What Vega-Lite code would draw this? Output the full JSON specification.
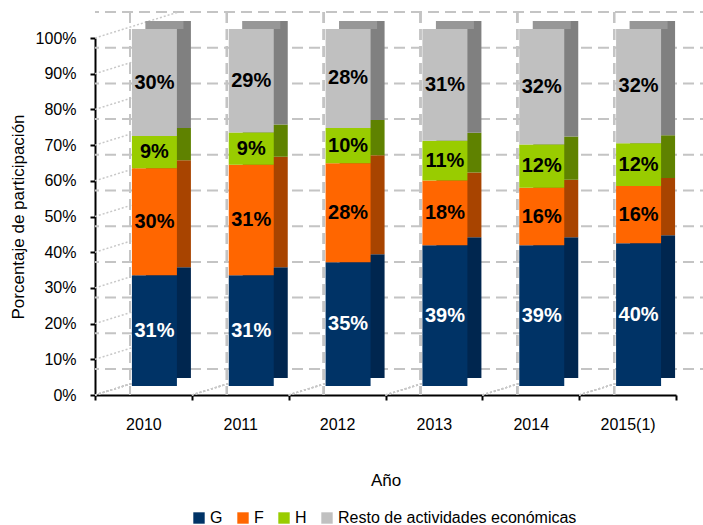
{
  "$schema": "https://vega.github.io/schema/vega-lite/v6.json",
  "width": 581,
  "height": 357,
  "autosize": {"type": "none"},
  "padding": {"left": 95, "top": 38, "right": 27, "bottom": 130},
  "background": "white",
  "config": {
    "view": {"stroke": null},
    "font": "Liberation Sans",
    "axis": {
      "grid": false,
      "domainColor": "black",
      "domainWidth": 2,
      "tickColor": "black",
      "tickWidth": 2,
      "tickSize": 5,
      "labelColor": "black",
      "titleColor": "black",
      "labelFont": "Liberation Sans",
      "titleFont": "Liberation Sans",
      "labelFontSize": 16,
      "titleFontSize": 17,
      "titleFontWeight": "normal"
    },
    "axisX": {"labelAngle": 0, "tickBand": "extent", "labelPadding": 16, "titlePadding": 40},
    "axisY": {"labelPadding": 14, "titlePadding": 8, "values": [0, 0.1, 0.2, 0.3, 0.4, 0.5, 0.6, 0.7, 0.8, 0.9, 1], "format": ".0%"},
    "legend": {"layout": {"bottom": {"anchor": "middle"}}}
  },
  "datasets": {
    "share": [
      {"year": "2010", "cat": "G", "v": 31},
      {"year": "2010", "cat": "F", "v": 30},
      {"year": "2010", "cat": "H", "v": 9},
      {"year": "2010", "cat": "Resto de actividades  económicas", "v": 30},
      {"year": "2011", "cat": "G", "v": 31},
      {"year": "2011", "cat": "F", "v": 31},
      {"year": "2011", "cat": "H", "v": 9},
      {"year": "2011", "cat": "Resto de actividades  económicas", "v": 29},
      {"year": "2012", "cat": "G", "v": 35},
      {"year": "2012", "cat": "F", "v": 28},
      {"year": "2012", "cat": "H", "v": 10},
      {"year": "2012", "cat": "Resto de actividades  económicas", "v": 28},
      {"year": "2013", "cat": "G", "v": 39},
      {"year": "2013", "cat": "F", "v": 18},
      {"year": "2013", "cat": "H", "v": 11},
      {"year": "2013", "cat": "Resto de actividades  económicas", "v": 31},
      {"year": "2014", "cat": "G", "v": 39},
      {"year": "2014", "cat": "F", "v": 16},
      {"year": "2014", "cat": "H", "v": 12},
      {"year": "2014", "cat": "Resto de actividades  económicas", "v": 32},
      {"year": "2015(1)", "cat": "G", "v": 40},
      {"year": "2015(1)", "cat": "F", "v": 16},
      {"year": "2015(1)", "cat": "H", "v": 12},
      {"year": "2015(1)", "cat": "Resto de actividades  económicas", "v": 32}
    ],
    "grid": [
      {"g": 0}, {"g": 0.1}, {"g": 0.2}, {"g": 0.3}, {"g": 0.4}, {"g": 0.5},
      {"g": 0.6}, {"g": 0.7}, {"g": 0.8}, {"g": 0.9}, {"g": 1}
    ]
  },
  "layer": [
    {
      "data": {"name": "grid"},
      "mark": {"type": "rule", "color": "#c4c4c4", "strokeWidth": 2, "strokeDash": [11, 6], "xOffset": 35, "x2Offset": 35, "yOffset": -26, "y2Offset": -26},
      "encoding": {
        "y": {"field": "g", "type": "quantitative", "title": "Porcentaje de participación", "scale": {"domain": [0, 1], "nice": false}}
      }
    },
    {
      "data": {"name": "grid"},
      "mark": {"type": "rule", "color": "#c8c8c8", "strokeWidth": 1.5, "strokeDash": [2, 2], "x2Offset": 35, "y2Offset": -26},
      "encoding": {
        "x": {"datum": "2010", "type": "nominal", "bandPosition": 0},
        "x2": {"datum": "2010"},
        "y": {"field": "g", "type": "quantitative", "title": "Porcentaje de participación"},
        "y2": {"field": "g"}
      }
    },
    {
      "data": {"name": "share"},
      "mark": {"type": "rule", "color": "#c4c4c4", "strokeWidth": 2, "strokeDash": [11, 6], "xOffset": 35, "x2Offset": 35, "yOffset": -26, "y2Offset": -26},
      "encoding": {
        "x": {"field": "year", "type": "nominal", "sort": null, "bandPosition": 0, "title": "Año", "scale": {"paddingInner": 0, "paddingOuter": 0}}
      }
    },
    {
      "data": {"name": "share"},
      "mark": {"type": "rule", "color": "#c8c8c8", "strokeWidth": 1.5, "strokeDash": [2, 2], "x2Offset": 35, "y2Offset": -26},
      "encoding": {
        "x": {"field": "year", "type": "nominal", "sort": null, "bandPosition": 0, "title": "Año"},
        "x2": {"field": "year"},
        "y": {"datum": 0, "type": "quantitative"},
        "y2": {"datum": 0}
      }
    },
    {
      "data": {"name": "share"},
      "transform": [
        {"calculate": "indexof(['G','F','H','Resto de actividades  económicas'], datum.cat)", "as": "ord"},
        {"stack": "v", "groupby": ["year"], "sort": [{"field": "ord"}], "offset": "normalize", "as": ["y0", "y1"]}
      ],
      "mark": {"type": "bar", "width": 45, "xOffset": 25, "yOffset": -17, "y2Offset": -17},
      "encoding": {
        "x": {"field": "year", "type": "nominal", "sort": null, "title": "Año"},
        "y": {"field": "y0", "type": "quantitative", "title": "Porcentaje de participación"},
        "y2": {"field": "y1"},
        "color": {"field": "cat", "type": "nominal", "legend": null,
          "scale": {"domain": ["G", "F", "H", "Resto de actividades  económicas"], "range": ["#00264f", "#a84400", "#5f8200", "#808080"]}}
      }
    },
    {
      "data": {"name": "share"},
      "transform": [
        {"calculate": "indexof(['G','F','H','Resto de actividades  económicas'], datum.cat)", "as": "ord"},
        {"stack": "v", "groupby": ["year"], "sort": [{"field": "ord"}], "offset": "normalize", "as": ["y0", "y1"]},
        {"filter": "datum.ord === 3"}
      ],
      "mark": {"type": "bar", "width": 38, "xOffset": 21, "yOffset": -17, "y2Offset": -9, "color": "#979797"},
      "encoding": {
        "x": {"field": "year", "type": "nominal", "sort": null, "title": "Año"},
        "y": {"field": "y1", "type": "quantitative", "title": "Porcentaje de participación"},
        "y2": {"field": "y1"}
      }
    },
    {
      "data": {"name": "share"},
      "transform": [
        {"calculate": "indexof(['G','F','H','Resto de actividades  económicas'], datum.cat)", "as": "ord"},
        {"stack": "v", "groupby": ["year"], "sort": [{"field": "ord"}], "offset": "normalize", "as": ["y0", "y1"]}
      ],
      "mark": {"type": "bar", "width": 45, "xOffset": 11, "yOffset": -9, "y2Offset": -9},
      "encoding": {
        "x": {"field": "year", "type": "nominal", "sort": null, "title": "Año"},
        "y": {"field": "y0", "type": "quantitative", "title": "Porcentaje de participación"},
        "y2": {"field": "y1"},
        "color": {"field": "cat", "type": "nominal",
          "scale": {"domain": ["G", "F", "H", "Resto de actividades  económicas"], "range": ["#003366", "#ff6600", "#99cc00", "#c0c0c0"]},
          "legend": {"title": null, "orient": "bottom", "direction": "horizontal", "symbolType": "square", "symbolSize": 130, "symbolStrokeWidth": 0, "labelFontSize": 16, "labelFont": "Liberation Sans", "labelColor": "black", "labelLimit": 0, "columnPadding": 12, "labelOffset": 3, "offset": 22}}
      }
    },
    {
      "data": {"name": "share"},
      "transform": [
        {"calculate": "indexof(['G','F','H','Resto de actividades  económicas'], datum.cat)", "as": "ord"},
        {"stack": "v", "groupby": ["year"], "sort": [{"field": "ord"}], "offset": "normalize", "as": ["y0", "y1"]},
        {"calculate": "(datum.y0 + datum.y1) / 2", "as": "ym"},
        {"calculate": "datum.v + '%'", "as": "lbl"}
      ],
      "mark": {"type": "text", "font": "Liberation Sans", "fontSize": 20, "fontWeight": "bold", "xOffset": 11, "yOffset": -9, "baseline": "middle", "align": "center"},
      "encoding": {
        "x": {"field": "year", "type": "nominal", "sort": null, "title": "Año"},
        "y": {"field": "ym", "type": "quantitative", "title": "Porcentaje de participación"},
        "text": {"field": "lbl"},
        "color": {"condition": {"test": "datum.cat === 'G'", "value": "white"}, "value": "black"}
      }
    }
  ],
  "resolve": {"scale": {"color": "independent"}}
}
